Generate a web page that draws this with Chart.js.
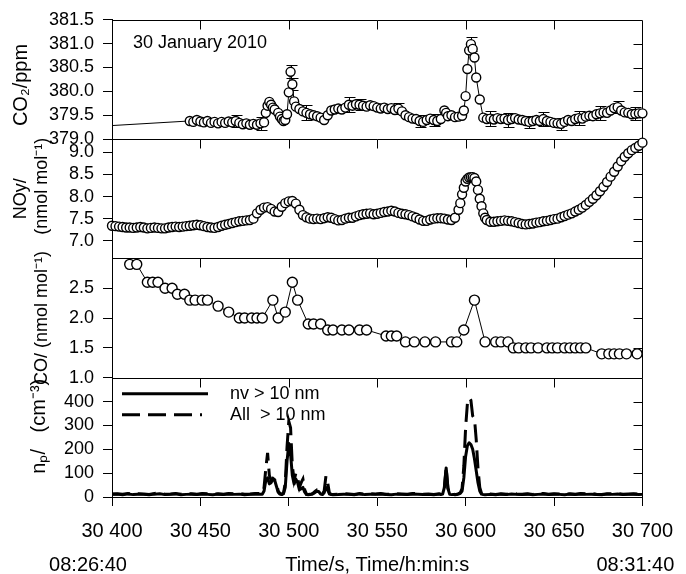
<!DOCTYPE html>
<html>
<head>
<meta charset="utf-8">
<script src="https://cdn.jsdelivr.net/npm/chart.js@4.4.0/dist/chart.umd.min.js"></script>
<style>
  html, body { margin: 0; padding: 0; background: #fff; }
</style>
</head>
<body>
<canvas id="chart" width="686" height="574"></canvas>
<script>
const FONT = '"Liberation Sans", Arial, Helvetica, sans-serif';

// shared time axis (s)
const xTicks = [30400, 30450, 30500, 30550, 30600, 30650, 30700];
const clockTimes = [30400, 30700];
const clockLabels = ['08:26:40', '08:31:40'];
const clockShift = [-24, -7];

// CO2 / ppm
const co2Ticks = [379.0, 379.5, 380.0, 380.5, 381.0, 381.5];
const co2Time = [
  30380, 30444, 30446, 30448, 30450, 30452, 30454, 30456, 30458, 30460,
  30462, 30464, 30466, 30468, 30470, 30472, 30474, 30476, 30478, 30480,
  30482, 30484, 30486, 30487, 30488, 30489, 30490, 30491, 30492, 30494,
  30495, 30496, 30497, 30498, 30499, 30500, 30501, 30502, 30503, 30504,
  30506, 30508, 30510, 30512, 30514, 30516, 30518, 30520, 30522, 30524,
  30526, 30528, 30530, 30532, 30534, 30536, 30538, 30540, 30542, 30544,
  30546, 30548, 30550, 30552, 30554, 30556, 30558, 30560, 30562, 30564,
  30566, 30568, 30570, 30572, 30574, 30576, 30578, 30580, 30582, 30584,
  30586, 30588, 30589, 30590, 30592, 30594, 30596, 30598, 30599, 30600,
  30601, 30602, 30603, 30604, 30605, 30606, 30608, 30610, 30612, 30614,
  30616, 30618, 30620, 30622, 30624, 30626, 30628, 30630, 30632, 30634,
  30636, 30638, 30640, 30642, 30644, 30646, 30648, 30650, 30652, 30654,
  30656, 30658, 30660, 30662, 30664, 30666, 30668, 30670, 30672, 30674,
  30676, 30678, 30680, 30682, 30684, 30686, 30688, 30690, 30692, 30694,
  30696, 30698, 30700
];
const co2Value = [
  379.24, 379.38, 379.36, 379.40, 379.37, 379.35, 379.38, 379.34, 379.36, 379.33,
  379.36, 379.34, 379.37, 379.35, 379.38, 379.34, 379.31, 379.33, 379.30, 379.32,
  379.30, 379.33, 379.35, 379.55, 379.70, 379.78, 379.72, 379.66, 379.62, 379.55,
  379.47, 379.42, 379.38, 379.40, 379.52, 379.98, 380.41, 380.15, 379.79, 379.68,
  379.63, 379.58, 379.55, 379.52, 379.50, 379.48, 379.45, 379.40, 379.50, 379.60,
  379.62, 379.64, 379.62, 379.66, 379.72, 379.70, 379.73, 379.72, 379.70, 379.68,
  379.71, 379.69, 379.66, 379.64, 379.66, 379.63, 379.65, 379.61, 379.64, 379.58,
  379.50, 379.46, 379.43, 379.42, 379.38, 379.36, 379.40, 379.43, 379.40, 379.38,
  379.42, 379.60, 379.55, 379.48, 379.50, 379.46, 379.47, 379.49, 379.60, 379.90,
  380.47, 380.86, 380.99, 380.89, 380.71, 380.29, 379.83, 379.45, 379.42, 379.43,
  379.41, 379.44, 379.42, 379.43, 379.40, 379.42, 379.44, 379.41, 379.40, 379.38,
  379.36, 379.38, 379.40, 379.38, 379.42, 379.38, 379.36, 379.34, 379.33, 379.32,
  379.36, 379.40, 379.38, 379.42, 379.44, 379.43, 379.47, 379.49, 379.48, 379.52,
  379.54, 379.56, 379.55, 379.60, 379.65, 379.67, 379.60, 379.56, 379.55, 379.52,
  379.53, 379.54, 379.54
];
// standard deviation bars on a subset of the CO2 points
const co2ErrTime = [30470, 30484, 30501, 30502, 30510, 30534, 30540, 30562, 30574, 30582,
                    30603, 30614, 30624, 30636, 30644, 30654, 30664, 30676, 30686, 30696];
const co2Err = [0.13, 0.13, 0.14, 0.12, 0.16, 0.16, 0.12, 0.12, 0.12, 0.13,
                0.14, 0.15, 0.14, 0.12, 0.14, 0.13, 0.14, 0.15, 0.12, 0.14];

// NOy / nmol mol-1
const noyTicks = [7.0, 7.5, 8.0, 8.5, 9.0];
const noyTime = [
  30400, 30402, 30404, 30406, 30408, 30410, 30412, 30414, 30416, 30418,
  30420, 30422, 30424, 30426, 30428, 30430, 30432, 30434, 30436, 30438,
  30440, 30442, 30444, 30446, 30448, 30450, 30452, 30454, 30456, 30458,
  30460, 30462, 30464, 30466, 30468, 30470, 30472, 30474, 30476, 30478,
  30480, 30482, 30484, 30486, 30488, 30490, 30492, 30494, 30496, 30498,
  30500, 30502, 30504, 30506, 30508, 30510, 30512, 30514, 30516, 30518,
  30520, 30522, 30524, 30526, 30528, 30530, 30532, 30534, 30536, 30538,
  30540, 30542, 30544, 30546, 30548, 30550, 30552, 30554, 30556, 30558,
  30560, 30562, 30564, 30566, 30568, 30570, 30572, 30574, 30576, 30578,
  30580, 30582, 30584, 30586, 30588, 30590, 30592, 30594, 30596, 30597,
  30598, 30599, 30600, 30601, 30602, 30603, 30604, 30605, 30606, 30607,
  30608, 30609, 30610, 30611, 30612, 30614, 30616, 30618, 30620, 30622,
  30624, 30626, 30628, 30630, 30632, 30634, 30636, 30638, 30640, 30642,
  30644, 30646, 30648, 30650, 30652, 30654, 30656, 30658, 30660, 30662,
  30664, 30666, 30668, 30670, 30672, 30674, 30676, 30678, 30680, 30682,
  30684, 30686, 30688, 30690, 30692, 30694, 30696, 30698, 30700
];
const noyValue = [
  7.34, 7.33, 7.32, 7.31, 7.30, 7.30, 7.29, 7.30, 7.31, 7.30,
  7.28, 7.29, 7.30, 7.29, 7.28, 7.28, 7.30, 7.31, 7.32, 7.31,
  7.32, 7.33, 7.34, 7.35, 7.36, 7.35, 7.33, 7.31, 7.30, 7.29,
  7.31, 7.34, 7.36, 7.38, 7.40, 7.42, 7.44, 7.45, 7.46, 7.47,
  7.50, 7.62, 7.70, 7.75, 7.76, 7.72, 7.66, 7.65, 7.77, 7.85,
  7.89, 7.90, 7.84, 7.70, 7.58, 7.53, 7.50, 7.49, 7.50, 7.49,
  7.51, 7.53, 7.52, 7.49, 7.46, 7.47, 7.50, 7.52, 7.52, 7.55,
  7.58, 7.60, 7.61, 7.62, 7.60, 7.61, 7.63, 7.65, 7.66, 7.68,
  7.66, 7.63, 7.61, 7.60, 7.58, 7.55, 7.52, 7.48, 7.45, 7.45,
  7.48, 7.50, 7.51, 7.51, 7.50, 7.48, 7.47, 7.52, 7.70, 7.85,
  8.05, 8.20, 8.34, 8.40, 8.43, 8.44, 8.44, 8.42, 8.34, 8.15,
  7.95, 7.78, 7.62, 7.52, 7.47, 7.43, 7.43, 7.44, 7.45, 7.46,
  7.45, 7.44, 7.42, 7.40, 7.38, 7.37, 7.38, 7.39, 7.41, 7.42,
  7.44, 7.45, 7.47, 7.49, 7.50, 7.53, 7.56, 7.59, 7.62, 7.66,
  7.70, 7.75, 7.81, 7.88, 7.95, 8.03, 8.12, 8.22, 8.33, 8.45,
  8.56, 8.68, 8.80, 8.90, 8.98, 9.05, 9.10, 9.15, 9.22
];

// CO / nmol mol-1
const coTicks = [1.0, 1.5, 2.0, 2.5];
const coTime = [
  30410, 30414, 30420, 30423, 30426, 30430, 30434, 30437, 30441, 30444,
  30447, 30451, 30454, 30460, 30466, 30472, 30475, 30479, 30482, 30485,
  30491, 30494, 30498, 30502, 30505, 30511, 30514, 30518, 30522, 30525,
  30530, 30534, 30540, 30544, 30555, 30558, 30561, 30566, 30571, 30577,
  30583, 30592, 30595, 30599, 30605, 30611, 30617, 30620, 30624, 30627,
  30630, 30634, 30637, 30641, 30646, 30649, 30652, 30656, 30659, 30662,
  30665, 30668, 30677, 30681, 30684, 30687, 30691, 30697
];
const coValue = [
  2.9, 2.9, 2.6, 2.6, 2.6, 2.5, 2.5, 2.4, 2.4, 2.3,
  2.3, 2.3, 2.3, 2.2, 2.1, 2.0, 2.0, 2.0, 2.0, 2.0,
  2.3, 2.0, 2.1, 2.6, 2.3, 1.9, 1.9, 1.9, 1.8, 1.8,
  1.8, 1.8, 1.8, 1.8, 1.7, 1.7, 1.7, 1.6, 1.6, 1.6,
  1.6, 1.6, 1.6, 1.8, 2.3, 1.6, 1.6, 1.6, 1.6, 1.5,
  1.5, 1.5, 1.5, 1.5, 1.5, 1.5, 1.5, 1.5, 1.5, 1.5,
  1.5, 1.5, 1.4, 1.4, 1.4, 1.4, 1.4, 1.4
];

// particle number concentration / cm-3
const npTicks = [0, 100, 200, 300, 400];
const npTime = [
  30400, 30403, 30406, 30409, 30412, 30415, 30418, 30421, 30424, 30427,
  30430, 30433, 30436, 30439, 30442, 30445, 30448, 30451, 30454, 30457,
  30460, 30463, 30466, 30469, 30472, 30475, 30478, 30481, 30484,
  30485, 30486, 30487, 30488, 30489, 30490, 30491, 30492, 30493, 30494,
  30495, 30496, 30497, 30498, 30499, 30500, 30501, 30502, 30503, 30504,
  30505, 30506, 30507, 30508, 30509, 30510, 30511, 30512, 30513, 30514,
  30515, 30516, 30517, 30518, 30519, 30520, 30521, 30522, 30523, 30524,
  30525,
  30528, 30531, 30534, 30537, 30540, 30543, 30546, 30549, 30552, 30555,
  30558, 30561, 30564, 30567, 30570, 30573, 30576, 30579, 30582, 30585,
  30586, 30587, 30588, 30589, 30590, 30591, 30592, 30593, 30594, 30595,
  30596, 30597, 30598, 30599, 30600, 30601, 30602, 30603, 30604, 30605,
  30606, 30607, 30608, 30609, 30610, 30611,
  30614, 30617, 30620, 30623, 30626, 30629, 30632, 30635, 30638, 30641,
  30644, 30647, 30650, 30653, 30656, 30659, 30662, 30665, 30668, 30671,
  30674, 30677, 30680, 30683, 30686, 30689, 30692, 30695, 30698, 30700
];
const npNv = [
  11, 12, 9, 13, 10, 12, 11, 9, 12, 14,
  10, 11, 13, 9, 11, 12, 10, 13, 11, 9,
  12, 10, 13, 11, 12, 9, 11, 13, 12,
  12, 25, 70, 80, 55, 60, 75, 70, 45, 20,
  12, 10, 14, 40, 150, 224, 180, 90, 55, 75,
  60, 30, 35, 40, 20, 10, 9, 10, 11, 15,
  20, 25, 22, 12, 10, 18, 40, 30, 12, 10,
  9,
  10, 12, 11, 9, 13, 10, 12, 11, 13, 10,
  9, 12, 11, 10, 13, 12, 10, 11, 9, 12,
  10, 12, 40, 122, 35, 11, 10, 11, 9, 10,
  12, 15, 25, 80, 170, 215, 227, 220, 200, 160,
  110, 60, 25, 12, 10, 9,
  11, 9, 12, 10, 13, 11, 10, 12, 9, 11,
  13, 10, 12, 11, 9, 12, 10, 13, 11, 12,
  10, 9, 12, 11, 13, 10, 11, 12, 10, 11
];
const npAll = [
  13, 14, 12, 15, 12, 14, 13, 11, 15, 16,
  12, 13, 15, 12, 13, 14, 12, 15, 14, 11,
  14, 12, 15, 13, 14, 12, 13, 15, 14,
  14, 40, 120, 185, 90, 70, 78, 72, 60, 25,
  15, 12, 16, 60, 210, 317, 290, 130, 70, 100,
  80, 40, 60, 75, 30, 12, 11, 12, 13, 18,
  24, 30, 28, 14, 12, 25, 88, 60, 15, 12,
  11,
  12, 14, 13, 11, 15, 12, 14, 13, 15, 12,
  11, 14, 13, 12, 15, 14, 12, 13, 11, 14,
  12, 14, 42, 125, 38, 13, 12, 13, 11, 12,
  14, 18, 35, 130, 290, 390, 415, 405, 340, 330,
  240, 120, 40, 15, 12, 11,
  13, 11, 14, 12, 15, 13, 12, 14, 11, 13,
  15, 12, 14, 13, 11, 14, 12, 15, 13, 14,
  12, 11, 14, 13, 15, 12, 13, 14, 12, 13
];

const panelIds = ['yCO2', 'yNOy', 'yCO', 'yNp'];

const pairs = (xs, ys) => xs.map((x, i) => ({ x, y: ys[i] }));
const spaced = v => String(v).replace(/\B(?=(\d{3})+(?!\d))/g, ' ');

function panelAxis(weight, min, max, ticks, digits, title, titleSize, titlePad) {
  return {
    type: 'linear',
    position: 'left',
    stack: 'panels',
    stackWeight: 1,
    weight,
    min,
    max,
    afterFit(scale) { scale.width = 112; },
    afterBuildTicks(scale) { scale.ticks = ticks.map(v => ({ value: v })); },
    grid: { drawOnChartArea: false, drawTicks: true, tickLength: 9, color: '#000' },
    border: { color: '#000' },
    ticks: {
      color: '#000', padding: 9, autoSkip: false,
      font: { family: FONT, size: 18 },
      callback: v => v.toFixed(digits)
    },
    title: {
      display: true, text: title, color: '#000',
      font: { family: FONT, size: titleSize },
      padding: { top: titlePad, bottom: 0 }
    }
  };
}

const circles = {
  type: 'line',
  xAxisID: 'x',
  borderColor: '#000',
  borderWidth: 1,
  pointStyle: 'circle',
  pointBackgroundColor: '#fff',
  pointBorderColor: '#000',
  pointBorderWidth: 1.4,
  tension: 0
};

// frames, inner ticks, error bars, legend and annotations
const panelDecor = {
  id: 'panelDecor',
  beforeDatasetsDraw(chart) {
    const { ctx, chartArea, scales } = chart;
    const x = scales.x;
    ctx.save();
    ctx.strokeStyle = '#000';
    ctx.lineWidth = 1;
    panelIds.forEach(id => {
      const s = scales[id];
      const top = Math.round(s.top) + 0.5;
      const bottom = Math.round(s.bottom) + 0.5;
      const left = Math.round(chartArea.left) + 0.5;
      const right = Math.round(chartArea.right) + 0.5;
      ctx.beginPath();
      ctx.moveTo(left, top);
      ctx.lineTo(right, top);
      ctx.lineTo(right, bottom);
      xTicks.forEach(t => {
        if (t <= x.min || t >= x.max) return;
        const px = Math.round(x.getPixelForValue(t)) + 0.5;
        ctx.moveTo(px, top);
        ctx.lineTo(px, top + 9);
      });
      s.ticks.forEach(t => {
        if (t.value <= s.min || t.value >= s.max) return;
        const py = Math.round(s.getPixelForValue(t.value)) + 0.5;
        ctx.moveTo(right, py);
        ctx.lineTo(right - 9, py);
      });
      ctx.stroke();
    });

    // CO2 error bars
    const yc = scales.yCO2;
    ctx.beginPath();
    co2ErrTime.forEach((t, k) => {
      const v = co2Value[co2Time.indexOf(t)];
      const px = Math.round(x.getPixelForValue(t)) + 0.5;
      const hi = Math.round(yc.getPixelForValue(v + co2Err[k])) + 0.5;
      const lo = Math.round(yc.getPixelForValue(v - co2Err[k])) + 0.5;
      ctx.moveTo(px, hi); ctx.lineTo(px, lo);
      ctx.moveTo(px - 5, hi); ctx.lineTo(px + 6, hi);
      ctx.moveTo(px - 5, lo); ctx.lineTo(px + 6, lo);
    });
    ctx.stroke();
    ctx.restore();
  },
  afterDraw(chart) {
    const { ctx, chartArea, scales } = chart;
    const x = scales.x;
    ctx.save();
    ctx.fillStyle = '#000';
    ctx.textBaseline = 'middle';

    ctx.font = '18px ' + FONT;
    ctx.textAlign = 'left';
    ctx.fillText('30 January 2010', chartArea.left + 21, scales.yCO2.top + 23);

    // legend for the particle panel
    const yn = scales.yNp;
    const lx = chartArea.left + 10;
    chart.data.datasets.filter(d => d.yAxisID === 'yNp').forEach((d, i) => {
      const ly = yn.top + 16 + i * 21;
      ctx.beginPath();
      ctx.lineWidth = d.borderWidth;
      ctx.setLineDash(d.borderDash || []);
      ctx.moveTo(lx, ly);
      ctx.lineTo(lx + (d.borderDash ? 80 : 86), ly);
      ctx.stroke();
      ctx.setLineDash([]);
      ctx.fillText(d.label, lx + 108, ly);
    });

    // clock time under the first and last tick
    ctx.font = '20px ' + FONT;
    ctx.textAlign = 'center';
    clockTimes.forEach((t, i) => {
      ctx.fillText(clockLabels[i], x.getPixelForValue(t) + clockShift[i], x.bottom - 9);
    });
    ctx.restore();
  }
};

new Chart(document.getElementById('chart'), {
  type: 'line',
  data: {
    datasets: [
      Object.assign({}, circles, {
        label: 'CO2', yAxisID: 'yCO2', data: pairs(co2Time, co2Value),
        pointRadius: 4.5, clip: { left: 0, right: 8, top: false, bottom: false }
      }),
      Object.assign({}, circles, {
        label: 'NOy', yAxisID: 'yNOy', data: pairs(noyTime, noyValue),
        pointRadius: 4.5, clip: false
      }),
      Object.assign({}, circles, {
        label: 'CO', yAxisID: 'yCO', data: pairs(coTime, coValue),
        pointRadius: 5, clip: false
      }),
      {
        type: 'line', label: 'nv > 10 nm', xAxisID: 'x', yAxisID: 'yNp',
        data: pairs(npTime, npNv), borderColor: '#000', borderWidth: 3,
        pointRadius: 0, tension: 0, borderJoinStyle: 'round', order: 1
      },
      {
        type: 'line', label: 'All  > 10 nm', xAxisID: 'x', yAxisID: 'yNp',
        data: pairs(npTime, npAll), borderColor: '#000', borderWidth: 3,
        borderDash: [18, 8], pointRadius: 0, tension: 0, order: 0
      }
    ]
  },
  options: {
    responsive: false,
    animation: false,
    events: [],
    layout: { padding: { top: 17, right: 37, bottom: 0, left: 0 } },
    plugins: { legend: { display: false }, tooltip: { enabled: false } },
    scales: {
      x: {
        type: 'linear',
        position: 'bottom',
        min: 30400,
        max: 30700,
        afterFit(scale) { scale.height = 77; },
        afterBuildTicks(scale) { scale.ticks = xTicks.map(v => ({ value: v })); },
        grid: { drawOnChartArea: false, drawTicks: true, tickLength: 9, color: '#000' },
        border: { color: '#000' },
        ticks: {
          color: '#000', padding: 13, maxRotation: 0, autoSkip: false,
          font: { family: FONT, size: 20 },
          callback: v => spaced(v)
        },
        title: {
          display: true, text: 'Time/s, Time/h:min:s', color: '#000',
          font: { family: FONT, size: 20, lineHeight: 1 },
          padding: { top: 0, bottom: -1 }
        }
      },
      yCO2: panelAxis(4, 379.0, 381.5, co2Ticks, 1, 'CO₂/ppm  ', 20, 9),
      yNOy: panelAxis(3, 6.6, 9.3, noyTicks, 1, ['NOy/', '     (nmol mol⁻¹)'], 18, 10),
      yCO: panelAxis(2, 1.0, 3.0, coTicks, 1, ['', 'CO/ (nmol mol⁻¹)'], 18, 10),
      yNp: panelAxis(1, 0, 500, npTicks, 0, ['', '    nₚ/   (cm⁻³)'], 20, 3)
    }
  },
  plugins: [panelDecor]
});
</script>
</body>
</html>
